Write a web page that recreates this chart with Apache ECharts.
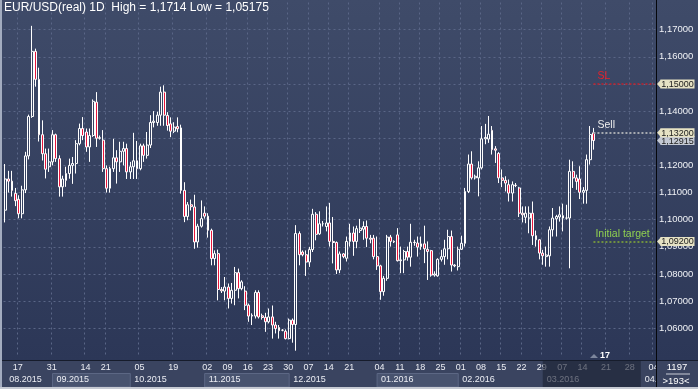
<!DOCTYPE html>
<html><head><meta charset="utf-8">
<script src="https://cdn.jsdelivr.net/npm/echarts@6/dist/echarts.min.js"></script>
<style>
html,body{margin:0;padding:0;background:#3a4460;overflow:hidden;}
#chart{width:698px;height:389px;background:linear-gradient(to bottom,#3f4b69 0px,#2c3757 360px,#3a4460 360px,#3a4460 389px);}
</style></head><body><div id="chart"></div>
<script>
// ---- data ----
const opens = [
1.1035,1.1150,1.1142,1.1097,1.1075,1.1022,1.1110,1.1235,1.1380,1.1620,
1.1517,1.1313,1.1243,1.1195,1.1213,1.1313,1.1225,1.1121,1.1145,1.1170,
1.1200,1.1207,1.1280,1.1336,1.1323,1.1268,1.1310,1.1433,1.1300,1.1293,
1.1188,1.1116,1.1188,1.1228,1.1213,1.1252,1.1262,1.1176,1.1195,1.1217,
1.1188,1.1272,1.1237,1.1275,1.1358,1.1358,1.1385,1.1470,1.1384,1.1353,
1.1326,1.1343,1.1338,1.1108,1.1012,1.1055,1.1047,1.0918,1.0976,1.1024,
1.1013,1.0961,1.0857,1.0875,1.0743,1.0737,1.0752,1.0710,1.0740,1.0805,
1.0746,1.0737,1.0685,1.0645,1.0645,1.0732,1.0646,1.0640,1.0624,1.0642,
1.0612,1.0603,1.0593,1.0589,1.0562,1.0630,1.0614,1.0949,1.0881,1.0871,
1.0844,1.0890,1.1020,1.0948,1.0985,1.0975,1.0988,1.0920,1.0916,1.0815,
1.0874,1.0858,1.0920,1.0951,1.0920,1.0960,1.0965,1.0975,1.0932,1.0932,
1.0864,1.0830,1.0735,1.0784,1.0936,1.0920,1.0944,1.0849,1.0852,1.0883,
1.0862,1.0917,1.0914,1.0901,1.0911,1.0891,1.0886,1.0796,1.0793,1.0854,
1.0864,1.0893,1.0938,1.0833,1.0827,1.0891,1.0913,1.1104,1.1205,1.1154,
1.1154,1.1191,1.1298,1.1297,1.1329,1.1261,1.1244,1.1154,1.1145,1.1129,
1.1098,1.1127,1.1117,1.1024,1.1009,1.1006,1.1024,1.0941,1.0926,1.0877,
1.0864,1.0867,1.0963,1.1003,1.1010,1.1006,1.1006,1.1006,1.1178,1.1154,
1.1150,1.1101,1.1108,1.1221,1.1320];
const closes = [
1.1150,1.1142,1.1108,1.1070,1.1022,1.1110,1.1235,1.1380,1.1620,1.1517,
1.1313,1.1243,1.1186,1.1213,1.1313,1.1225,1.1121,1.1150,1.1170,1.1200,
1.1207,1.1280,1.1336,1.1310,1.1268,1.1310,1.1436,1.1300,1.1302,1.1188,
1.1116,1.1188,1.1228,1.1213,1.1252,1.1262,1.1176,1.1195,1.1217,1.1188,
1.1272,1.1237,1.1275,1.1358,1.1363,1.1385,1.1470,1.1385,1.1347,1.1326,
1.1341,1.1335,1.1108,1.1012,1.1055,1.1048,1.0918,1.0976,1.1004,1.1013,
1.0961,1.0857,1.0875,1.0743,1.0738,1.0752,1.0710,1.0740,1.0805,1.0746,
1.0771,1.0685,1.0645,1.0648,1.0732,1.0642,1.0640,1.0624,1.0642,1.0612,
1.0599,1.0591,1.0593,1.0562,1.0630,1.0614,1.0949,1.0871,1.0871,1.0844,
1.0890,1.1020,1.0946,1.0985,1.0985,1.0988,1.0920,1.0916,1.0815,1.0874,
1.0864,1.0920,1.0951,1.0920,1.0967,1.0969,1.0975,1.0932,1.0928,1.0864,
1.0830,1.0735,1.0784,1.0936,1.0920,1.0918,1.0849,1.0852,1.0883,1.0862,
1.0917,1.0916,1.0899,1.0911,1.0893,1.0883,1.0796,1.0800,1.0854,1.0864,
1.0893,1.0938,1.0833,1.0830,1.0891,1.0913,1.1104,1.1205,1.1154,1.1160,
1.1191,1.1298,1.1303,1.1315,1.1258,1.1256,1.1154,1.1145,1.1135,1.1098,
1.1129,1.1126,1.1024,1.1018,1.1024,1.1024,1.0941,1.0926,1.0877,1.0867,
1.0870,1.0963,1.1006,1.1012,1.1018,1.1015,1.1006,1.1178,1.1154,1.1141,
1.1101,1.1108,1.1221,1.1314,1.12915];
const lows = [
1.0990,1.1100,1.1085,1.1050,1.1005,1.1005,1.1098,1.1222,1.1375,1.1490,
1.1288,1.1218,1.1152,1.1176,1.1200,1.1213,1.1085,1.1085,1.1121,1.1151,
1.1132,1.1170,1.1274,1.1293,1.1250,1.1213,1.1305,1.1268,1.1295,1.1176,
1.1100,1.1100,1.1176,1.1133,1.1176,1.1200,1.1150,1.1150,1.1150,1.1150,
1.1182,1.1213,1.1225,1.1264,1.1340,1.1346,1.1346,1.1346,1.1328,1.1304,
1.1319,1.1322,1.1096,1.0991,1.0998,1.1034,1.0893,1.0897,1.0971,1.1004,
1.0934,1.0832,1.0832,1.0703,1.0730,1.0703,1.0673,1.0691,1.0685,1.0710,
1.0740,1.0667,1.0624,1.0612,1.0636,1.0636,1.0632,1.0587,1.0618,1.0562,
1.0581,1.0562,1.0589,1.0559,1.0559,1.0547,1.05175,1.0832,1.0865,1.0793,
1.0826,1.0881,1.0924,1.0944,1.0975,1.0957,1.0901,1.0839,1.0800,1.0803,
1.0858,1.0846,1.0901,1.0867,1.0895,1.0951,1.0926,1.0899,1.0913,1.0854,
1.0815,1.0705,1.0720,1.0775,1.0901,1.0914,1.0846,1.0803,1.0803,1.0849,
1.0827,1.0904,1.0864,1.0889,1.0840,1.0778,1.0790,1.0790,1.0790,1.0846,
1.0834,1.0854,1.0809,1.0825,1.0813,1.0889,1.0901,1.1098,1.1148,1.1148,
1.1086,1.1185,1.1278,1.1283,1.1240,1.1209,1.1135,1.1120,1.1104,1.1067,
1.1067,1.1120,1.1010,1.0990,1.0987,1.0950,1.0907,1.0901,1.0854,1.0834,
1.0827,1.0827,1.0938,1.0938,1.0993,1.0957,1.1000,1.0821,1.1117,1.1110,
1.1076,1.1059,1.1059,1.1203,1.1258];
const highs = [
1.1205,1.1180,1.1180,1.1117,1.1090,1.1125,1.1250,1.1387,1.1714,1.1630,
1.1560,1.1366,1.1262,1.1262,1.1330,1.1317,1.1237,1.1162,1.1195,1.1225,
1.1231,1.1293,1.1354,1.1378,1.1336,1.1336,1.1443,1.1470,1.1310,1.1330,
1.1200,1.1195,1.1298,1.1256,1.1287,1.1287,1.1280,1.1213,1.1320,1.1290,
1.1280,1.1280,1.1323,1.1385,1.1400,1.1398,1.1490,1.1495,1.1396,1.1377,
1.1359,1.1377,1.1350,1.1138,1.1065,1.1074,1.1092,1.0985,1.1071,1.1049,
1.1024,1.0967,1.0887,1.0890,1.0752,1.0789,1.0765,1.0767,1.0826,1.0820,
1.0777,1.0755,1.0691,1.0655,1.0740,1.0740,1.0654,1.0657,1.0673,1.0684,
1.0624,1.0612,1.0597,1.0596,1.0636,1.0636,1.0980,1.0957,1.0887,1.0887,
1.0900,1.1040,1.1028,1.1031,1.0995,1.1049,1.1062,1.1010,1.0920,1.0883,
1.0877,1.0938,1.0985,1.0975,1.0978,1.1003,1.0994,1.0997,1.0944,1.0944,
1.0938,1.0834,1.0793,1.0944,1.0944,1.0924,1.0969,1.0901,1.0889,1.0901,
1.0985,1.0926,1.0938,1.0938,1.0978,1.0920,1.0889,1.0810,1.0858,1.0889,
1.0926,1.0963,1.0960,1.0836,1.0901,1.0941,1.1117,1.1240,1.1252,1.1166,
1.1215,1.1345,1.1353,1.1382,1.1345,1.1271,1.1249,1.1185,1.1160,1.1148,
1.1141,1.1135,1.1121,1.1049,1.1049,1.1049,1.1067,1.0960,1.0928,1.0889,
1.0901,1.0975,1.1043,1.1018,1.1049,1.1059,1.1055,1.1221,1.1215,1.1166,
1.1197,1.1120,1.1240,1.1345,1.1338];

// trading calendar of the candles
const firstDate = '2015-08-12';
const lastCandleDate = '2016-03-18';
const axisEndDate = '2016-04-05';
const sundayCandlesFrom = '2015-11-08';
const extraSundays = ['2015-09-20'];
const closedDays = ['2015-12-25', '2016-01-01', '2016-01-03'];

// date tick labels shown on the axis
const dayTickDates = ['2015-08-17','2015-08-31','2015-09-14','2015-09-21','2015-10-05','2015-10-19',
  '2015-11-02','2015-11-09','2015-11-16','2015-11-23','2015-11-30','2015-12-07','2015-12-14','2015-12-21',
  '2016-01-04','2016-01-11','2016-01-18','2016-01-25','2016-02-01','2016-02-08','2016-02-15','2016-02-22',
  '2016-02-29','2016-03-07','2016-03-14','2016-03-21','2016-03-28','2016-04-04'];
const boxedMonths = ['2015-09', '2015-11', '2016-01', '2016-03'];
const dimmedMonth = '2016-03';

// price axis and levels
const priceMin = 1.05, priceMax = 1.18, priceStep = 0.01;
const levelSL = 1.15, levelSell = 1.132, levelTarget = 1.092, lastPrice = 1.12915;
const titleText = 'EUR/USD(real) 1D  High = 1,1714 Low = 1,05175';
const infoTop = '1197', infoBottom = '>193<', shiftMark = '17';

// ---- build ----
function iso(d){ return d.toISOString().slice(0,10); }
const dates = [];
{
  const d = new Date(firstDate + 'T00:00:00Z');
  while (iso(d) <= lastCandleDate) {
    const s = iso(d), wd = d.getUTCDay();
    let open = (wd >= 1 && wd <= 5) || (wd === 0 && (s >= sundayCandlesFrom || extraSundays.includes(s)));
    if (closedDays.includes(s)) open = false;
    if (open) dates.push(s);
    d.setUTCDate(d.getUTCDate() + 1);
  }
  const e = new Date(lastCandleDate + 'T00:00:00Z');
  while (true) { e.setUTCDate(e.getUTCDate() + 1); const s = iso(e); if (s > axisEndDate) break; dates.push(s); }
}
const candleData = opens.map((o, i) => [o, closes[i], lows[i], highs[i]]);
const lastIdx = opens.length - 1;
const endIdx = dates.length - 1;
const daySet = new Set(dayTickDates);
const monthStarts = [];
dates.forEach((d, i) => { if (i === 0 || d.slice(0,7) !== dates[i-1].slice(0,7)) monthStarts.push(i); });
const monthStartSet = new Set(monthStarts);
const fmtPrice = v => v.toFixed(5).replace('.', ',');
const FONT = 'Liberation Sans, Arial, sans-serif';
const GRID_COLOR = '#5a6687';

const chart = echarts.init(document.getElementById('chart'), null, {renderer: 'canvas'});

function level(value, color, width, text, textColor, padLeft) {
  return [
    {coord: [dates[lastIdx], value], lineStyle: {color: color, width: width, type: [2, 2]},
     label: {show: true, position: 'insideStartTop', distance: 2, formatter: text, color: textColor,
             fontSize: 10.5, fontFamily: FONT, padding: [0, 0, 0, padLeft]}},
    {coord: [dates[endIdx], value]}
  ];
}

const option = {
  animation: false,
  backgroundColor: 'transparent',
  grid: {left: 3.5, right: 42, top: 2.5, bottom: 33.55, containLabel: false},
  xAxis: [{
    type: 'category', data: dates, boundaryGap: true,
    axisLine: {show: false}, axisTick: {show: false},
    axisLabel: {interval: (i, v) => daySet.has(v), formatter: v => v.slice(8, 10),
                color: '#eceef4', fontSize: 9, fontFamily: FONT, margin: 8, padding: [0, 0, 0, 5]},
    splitLine: {show: true, interval: (i) => i > 0 && daySet.has(dates[i-1]),
                lineStyle: {color: GRID_COLOR, type: [2, 3], width: 1}}
  }, {
    type: 'category', data: dates, boundaryGap: true, position: 'bottom',
    axisLine: {show: false}, axisTick: {show: false}, splitLine: {show: false},
    axisLabel: {interval: (i) => monthStartSet.has(i), formatter: v => v.slice(5, 7) + '.' + v.slice(0, 4),
                align: 'left', padding: [0, 0, 0, 4], color: '#eceef4', fontSize: 9, fontFamily: FONT, margin: 19.5}
  }],
  yAxis: {
    type: 'value', position: 'right', min: priceMin, max: priceMax, interval: priceStep,
    axisLine: {show: false}, axisTick: {show: false},
    axisLabel: {showMinLabel: false, showMaxLabel: false, formatter: fmtPrice,
                color: '#f0f2f6', fontSize: 9.5, fontFamily: FONT, margin: 3},
    splitLine: {show: true, showMinLine: false, showMaxLine: false,
                lineStyle: {color: GRID_COLOR, type: [2, 3], width: 1}}
  },
  series: [{
    type: 'candlestick', data: candleData, barWidth: 2.4,
    itemStyle: {color: 'rgba(0,0,0,0)', color0: '#e8163c', borderColor: '#ffffff', borderColor0: '#ffffff',
                borderColorDoji: '#ffffff', borderWidth: 1},
    markLine: {
      symbol: ['none', 'none'], silent: true, animation: false,
      data: [
        level(levelSL, '#c8202a', 1.5, 'SL', '#e8202a', 2),
        level(levelSell, '#a6a9b0', 2, 'Sell', '#eeeeee', 2),
        level(levelTarget, '#6f9040', 2, 'Initial target', '#8fd050', 0)
      ]
    }
  }]
};
chart.setOption(option);

// decorations computed from the axis scales
const px = i => chart.convertToPixel({xAxisIndex: 0}, dates[i]);
const py = v => chart.convertToPixel({yAxisIndex: 0}, v);
const els = [];
monthStarts.forEach((s, k) => {
  const ym = dates[s].slice(0, 7);
  const e = k + 1 < monthStarts.length ? monthStarts[k + 1] : endIdx + 1;
  const x0 = px(s), x1 = e <= endIdx ? px(e) : 700;
  if (boxedMonths.includes(ym) && ym !== dimmedMonth) {
    els.push({type: 'rect', z: -5, shape: {x: x0, y: 373.5, width: x1 - x0, height: 13.5},
              style: {fill: '#48536f', stroke: '#5c6784', lineWidth: 1}});
  }
  if (ym === dimmedMonth) {
    els.push({type: 'rect', z: 50, shape: {x: x0, y: 361, width: x1 - x0, height: 26},
              style: {fill: 'rgba(28,34,52,0.62)'}});
  }
});
// price tags on the right axis
function priceTag(value, bg) {
  const y = py(value);
  els.push({type: 'polygon', z: 70, shape: {points: [[657, y], [661, y - 4.5], [661, y + 4.5]]}, style: {fill: bg}});
  els.push({type: 'rect', z: 70, shape: {x: 660.5, y: y - 4.5, width: 34, height: 9}, style: {fill: bg}});
  els.push({type: 'text', z: 71, x: 677.5, y: y + 0.5, style: {text: fmtPrice(value), fill: '#1c1c1c', font: '9px ' + FONT, align: 'center', verticalAlign: 'middle'}});
}
priceTag(lastPrice, '#c4c9d4');
priceTag(levelSL, '#e6e2c4');
priceTag(levelSell, '#e6e2c4');
priceTag(levelTarget, '#e6e2c4');
// separators and frame
els.push({type: 'rect', z: 55, shape: {x: 0, y: 360, width: 698, height: 1}, style: {fill: '#161c2b'}});
els.push({type: 'rect', z: 60, shape: {x: 657, y: 361, width: 41, height: 26}, style: {fill: '#3a4460'}});
els.push({type: 'rect', z: 61, shape: {x: 656, y: 0, width: 1, height: 389}, style: {fill: '#05070c'}});
els.push({type: 'rect', z: 61, shape: {x: 0, y: 0, width: 2, height: 389}, style: {fill: '#a3acbf'}});
els.push({type: 'rect', z: 61, shape: {x: 0, y: 387, width: 698, height: 2}, style: {fill: '#c6cad3'}});
els.push({type: 'text', z: 62, x: 677, y: 367, style: {text: infoTop, fill: '#ffffff', font: '9.5px ' + FONT, align: 'center', verticalAlign: 'middle'}});
els.push({type: 'rect', z: 62, shape: {x: 666, y: 373.5, width: 24, height: 1}, style: {fill: '#c8ccd6'}});
els.push({type: 'text', z: 62, x: 676, y: 381, style: {text: infoBottom, fill: '#ffffff', font: '9.5px ' + FONT, align: 'center', verticalAlign: 'middle'}});
// title
els.push({type: 'text', z: 62, x: 4, y: 8, style: {text: titleText, fill: '#ffffff', font: '12px ' + FONT, verticalAlign: 'middle'}});
// shift marker
els.push({type: 'polygon', z: 62, shape: {points: [[590, 358], [594, 354], [598, 358]]}, style: {fill: '#7c869c'}});
els.push({type: 'text', z: 62, x: 605, y: 355.5, style: {text: shiftMark, fill: '#ffffff', font: 'bold 9px ' + FONT, align: 'center', verticalAlign: 'middle'}});
chart.setOption({graphic: {elements: els}});
</script></body></html>
